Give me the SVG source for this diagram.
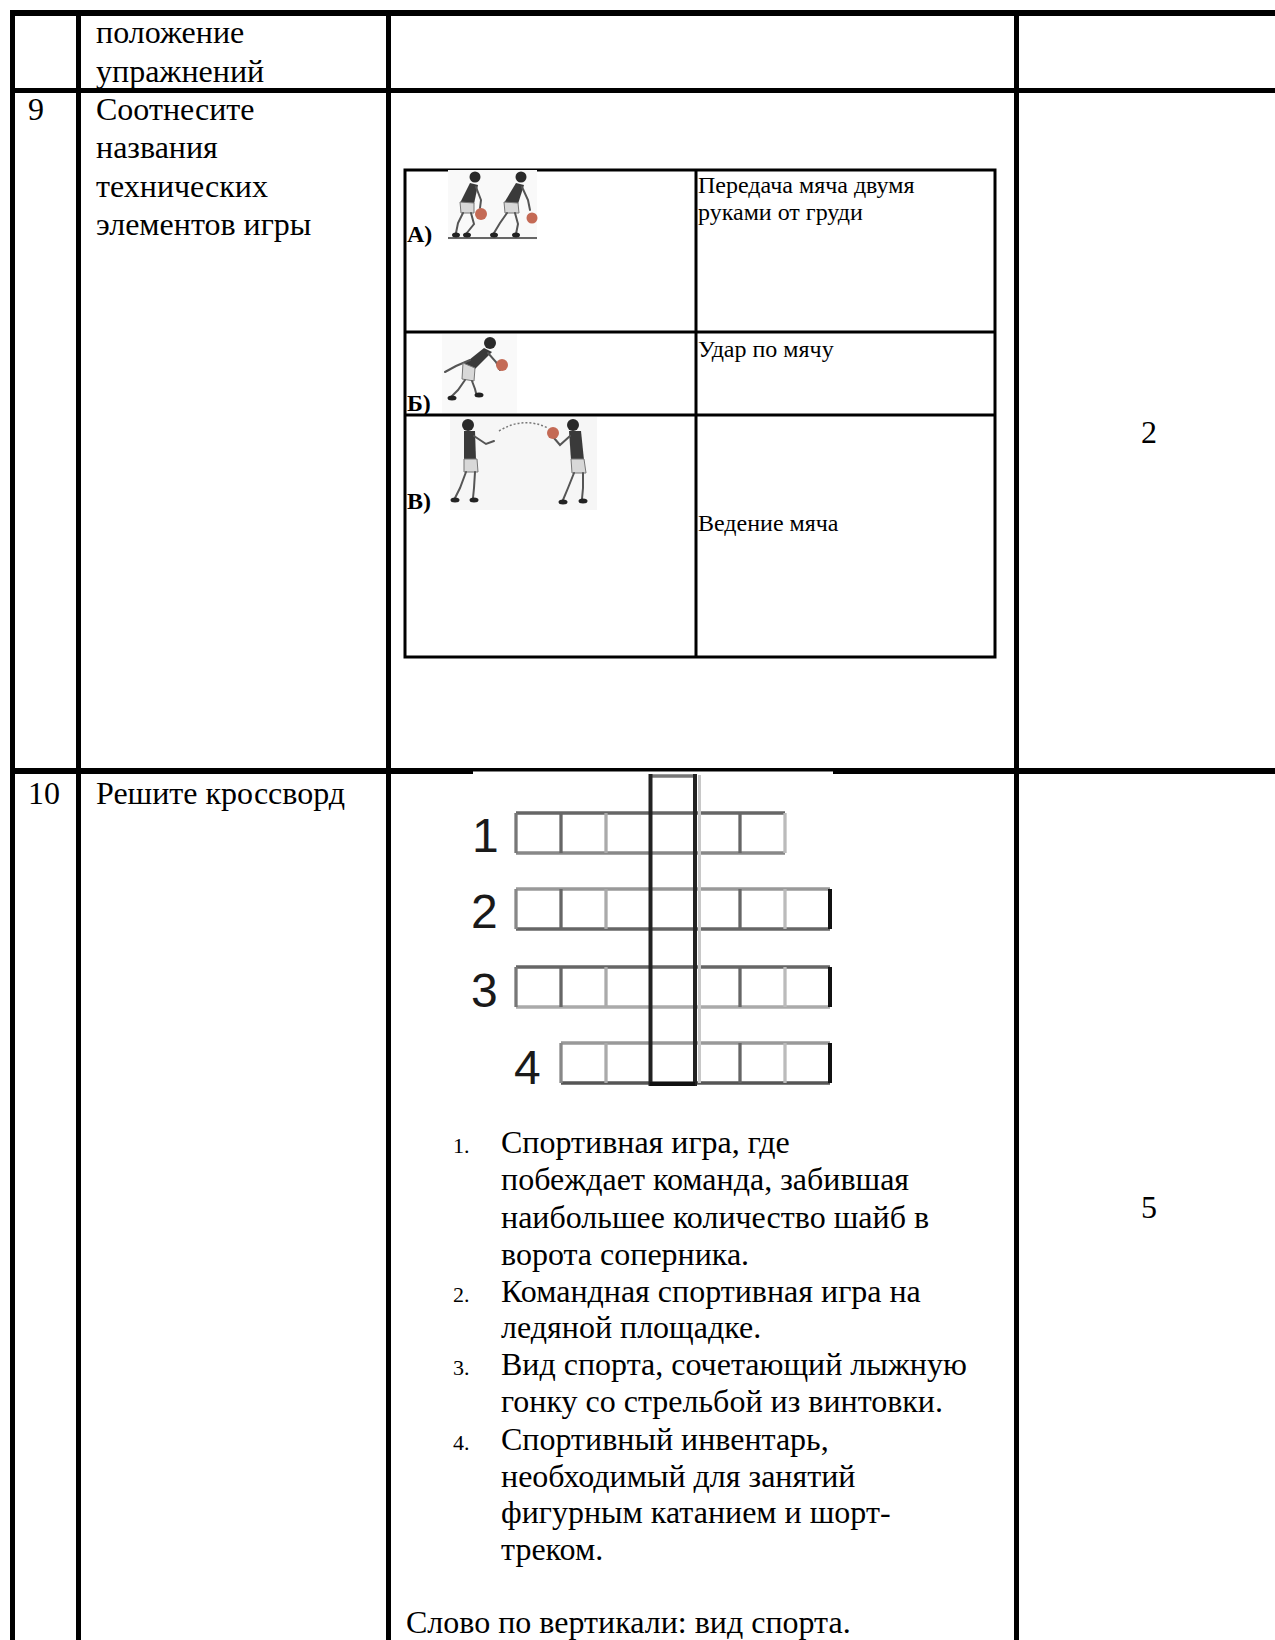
<svg xmlns="http://www.w3.org/2000/svg" width="1275" height="1640" viewBox="0 0 1275 1640">
<style>
.t{font-family:"Liberation Serif","Times New Roman",serif;font-size:32px;fill:#000}
.s{font-family:"Liberation Serif","Times New Roman",serif;font-size:24px;fill:#000}
.k{font-family:"Liberation Serif","Times New Roman",serif;font-size:22px;fill:#000}
.b{font-family:"Liberation Serif","Times New Roman",serif;font-size:24px;font-weight:bold;fill:#000}
.n{font-family:"Liberation Sans",Arial,sans-serif;font-size:48px;fill:#1a1a1a}
.il{stroke:#000;stroke-width:3;fill:none}
.cw{fill:none;stroke-width:3.3}
.leg{stroke:#555;stroke-width:2;fill:none;stroke-linecap:round}
.jer{fill:#3a3a3a}
.sh{fill:#d8d8d8;stroke:#777;stroke-width:1}
.hd{fill:#2a2a2a}
.ball{fill:#c46a55}
.ft{fill:#222}
</style>
<rect width="1275" height="1640" fill="#fff"/>
<g id="connectors">
  <rect x="10" y="10" width="1265" height="6" fill="#000"/>
  <rect x="10" y="88" width="1265" height="5" fill="#000"/>
  <rect x="10" y="768" width="1265" height="6" fill="#000"/>
  <rect x="10" y="10" width="5" height="1630" fill="#000"/>
  <rect x="76" y="10" width="5" height="1630" fill="#000"/>
  <rect x="386" y="10" width="5" height="1630" fill="#000"/>
  <rect x="1014" y="10" width="5" height="1630" fill="#000"/>
</g>
<g id="row-header">
  <text class="t" x="96" y="43">положение</text>
  <text class="t" x="96" y="82">упражнений</text>
</g>
<g id="row-9">
  <text class="t" x="28" y="120">9</text>
  <text class="t" x="96" y="120">Соотнесите</text>
  <text class="t" x="96" y="158">названия</text>
  <text class="t" x="96" y="197">технических</text>
  <text class="t" x="96" y="235">элементов игры</text>
  <text class="t" x="1149" y="443" text-anchor="middle">2</text>
</g>
<g id="match-table">
  <rect class="il" x="405" y="170" width="590" height="487"/>
  <line class="il" x1="696" y1="170" x2="696" y2="657"/>
  <line class="il" x1="405" y1="332" x2="995" y2="332"/>
  <line class="il" x1="405" y1="415" x2="995" y2="415"/>
  <text class="s" x="698" y="193">Передача мяча двумя</text>
  <text class="s" x="698" y="220">руками от груди</text>
  <text class="s" x="698" y="357">Удар по мячу</text>
  <text class="s" x="698" y="531">Ведение мяча</text>
  <text class="b" x="407" y="242">А)</text>
  <text class="b" x="407" y="411">Б)</text>
  <text class="b" x="407" y="509">В)</text>
</g>
<g id="figure-a">
  <rect x="448" y="170" width="89" height="70" fill="#f9f9f9"/>
  <line x1="448" y1="238" x2="537" y2="238" stroke="#666" stroke-width="2"/>
  <circle class="hd" cx="475" cy="177" r="5.5"/>
  <path class="jer" d="M470 183 L478 185 L474 204 L460 203 Z"/>
  <path class="leg" d="M476 187 L481 200 L480 208"/>
  <path class="sh" d="M460 202 L474 203 L474 213 L461 213 Z"/>
  <path class="leg" d="M463 213 L458 223 L456 233 M471 213 L474 224 L466 234"/>
  <circle class="ball" cx="481" cy="214" r="6"/>
  <ellipse class="ft" cx="456" cy="235" rx="4" ry="2.5"/>
  <ellipse class="ft" cx="467" cy="235" rx="4" ry="2.5"/>
  <circle class="hd" cx="521" cy="177" r="5.5"/>
  <path class="jer" d="M516 183 L524 185 L518 204 L504 203 Z"/>
  <path class="leg" d="M522 187 L528 200 L530 210"/>
  <path class="sh" d="M504 202 L518 203 L519 213 L505 213 Z"/>
  <path class="leg" d="M507 213 L500 223 L494 233 M515 213 L518 224 L516 234"/>
  <circle class="ball" cx="532" cy="218" r="5.5"/>
  <ellipse class="ft" cx="494" cy="235" rx="4" ry="2.5"/>
  <ellipse class="ft" cx="516" cy="235" rx="4" ry="2.5"/>
</g>
<g id="figure-b">
  <rect x="442" y="334" width="75" height="79" fill="#f9f9f9"/>
  <circle class="hd" cx="490" cy="343" r="6"/>
  <path class="jer" d="M484 348 L492 352 L474 370 L464 364 Z"/>
  <path class="leg" d="M470 360 L456 366 L445 372 M488 353 L496 362 L500 370"/>
  <path class="sh" d="M463 363 L475 368 L474 381 L462 379 Z"/>
  <path class="leg" d="M465 380 L458 390 L452 396 M472 381 L475 389 L476 393"/>
  <circle class="ball" cx="502" cy="365" r="6"/>
  <ellipse class="ft" cx="452" cy="398" rx="4.5" ry="2.5"/>
  <ellipse class="ft" cx="479" cy="395" rx="4.5" ry="2.5"/>
</g>
<g id="figure-c">
  <rect x="450" y="417" width="147" height="93" fill="#f6f6f6"/>
  <circle class="hd" cx="468" cy="425" r="6"/>
  <path class="jer" d="M464 431 L475 431 L476 460 L464 460 Z"/>
  <path class="leg" d="M474 436 L486 444 L494 441"/>
  <path class="sh" d="M464 459 L477 459 L478 472 L464 472 Z"/>
  <path class="leg" d="M466 472 L460 488 L455 498 M475 472 L474 488 L473 498"/>
  <ellipse class="ft" cx="455" cy="500" rx="4.5" ry="2.5"/>
  <ellipse class="ft" cx="474" cy="500" rx="4.5" ry="2.5"/>
  <path d="M499 431 Q523 416 548 428" fill="none" stroke="#777" stroke-width="1.5" stroke-dasharray="2 2"/>
  <circle class="hd" cx="573" cy="425" r="6"/>
  <path class="jer" d="M569 431 L581 431 L584 460 L571 460 Z"/>
  <path class="leg" d="M570 436 L560 445 L554 438"/>
  <circle class="ball" cx="553" cy="433" r="6"/>
  <path class="sh" d="M571 459 L584 459 L586 473 L572 473 Z"/>
  <path class="leg" d="M574 473 L568 488 L563 500 M583 473 L583 488 L582 499"/>
  <ellipse class="ft" cx="563" cy="502" rx="4.5" ry="2.5"/>
  <ellipse class="ft" cx="583" cy="501" rx="4.5" ry="2.5"/>
</g>
<g id="row-10">
  <text class="t" x="28" y="804">10</text>
  <text class="t" x="96" y="804">Решите кроссворд</text>
  <text class="t" x="1149" y="1218" text-anchor="middle">5</text>
</g>
<g id="crossword">
  <rect x="473" y="771.5" width="360" height="4" fill="#fff"/>
  <line class="cw" x1="516" y1="813" x2="785" y2="813" stroke="#666"/>
  <line class="cw" x1="516" y1="853" x2="785" y2="853" stroke="#888"/>
  <line class="cw" x1="516" y1="813" x2="516" y2="853" stroke="#777"/>
  <line class="cw" x1="561" y1="813" x2="561" y2="853" stroke="#666"/>
  <line class="cw" x1="606" y1="813" x2="606" y2="853" stroke="#aaa"/>
  <line class="cw" x1="740" y1="813" x2="740" y2="853" stroke="#666"/>
  <line class="cw" x1="785" y1="813" x2="785" y2="853" stroke="#bbb"/>
  <line class="cw" x1="516" y1="889" x2="830" y2="889" stroke="#999"/>
  <line class="cw" x1="516" y1="929" x2="830" y2="929" stroke="#666"/>
  <line class="cw" x1="516" y1="889" x2="516" y2="929" stroke="#888"/>
  <line class="cw" x1="561" y1="889" x2="561" y2="929" stroke="#666"/>
  <line class="cw" x1="606" y1="889" x2="606" y2="929" stroke="#aaa"/>
  <line class="cw" x1="740" y1="889" x2="740" y2="929" stroke="#666"/>
  <line class="cw" x1="785" y1="889" x2="785" y2="929" stroke="#bbb"/>
  <line x1="830" y1="889" x2="830" y2="929" stroke="#111" stroke-width="4"/>
  <line class="cw" x1="516" y1="967" x2="830" y2="967" stroke="#666"/>
  <line class="cw" x1="516" y1="1007" x2="830" y2="1007" stroke="#aaa"/>
  <line class="cw" x1="516" y1="967" x2="516" y2="1007" stroke="#777"/>
  <line class="cw" x1="561" y1="967" x2="561" y2="1007" stroke="#666"/>
  <line class="cw" x1="606" y1="967" x2="606" y2="1007" stroke="#aaa"/>
  <line class="cw" x1="740" y1="967" x2="740" y2="1007" stroke="#666"/>
  <line class="cw" x1="785" y1="967" x2="785" y2="1007" stroke="#bbb"/>
  <line x1="830" y1="967" x2="830" y2="1007" stroke="#111" stroke-width="4"/>
  <line class="cw" x1="561" y1="1043" x2="830" y2="1043" stroke="#999"/>
  <line class="cw" x1="561" y1="1083" x2="830" y2="1083" stroke="#555"/>
  <line class="cw" x1="561" y1="1043" x2="561" y2="1083" stroke="#888"/>
  <line class="cw" x1="606" y1="1043" x2="606" y2="1083" stroke="#aaa"/>
  <line class="cw" x1="740" y1="1043" x2="740" y2="1083" stroke="#666"/>
  <line class="cw" x1="785" y1="1043" x2="785" y2="1083" stroke="#bbb"/>
  <line x1="830" y1="1043" x2="830" y2="1083" stroke="#111" stroke-width="4"/>
  <line class="cw" x1="650" y1="776" x2="695" y2="776" stroke="#777"/>
  <line x1="699.5" y1="775" x2="699.5" y2="1083" stroke="#c8c8c8" stroke-width="3"/>
  <line x1="650.5" y1="774" x2="650.5" y2="1086" stroke="#222" stroke-width="4"/>
  <line x1="695" y1="774" x2="695" y2="1086" stroke="#222" stroke-width="4"/>
  <line x1="650" y1="1084" x2="695" y2="1084" stroke="#111" stroke-width="4"/>
  <text class="n" x="472" y="852">1</text>
  <text class="n" x="471" y="928">2</text>
  <text class="n" x="471" y="1007">3</text>
  <text class="n" x="514" y="1084">4</text>
</g>
<g id="clues">
  <text class="k" x="453" y="1153">1.</text>
  <text class="t" x="501" y="1153">Спортивная игра, где</text>
  <text class="t" x="501" y="1190">побеждает команда, забившая</text>
  <text class="t" x="501" y="1228">наибольшее количество шайб в</text>
  <text class="t" x="501" y="1265">ворота соперника.</text>
  <text class="k" x="453" y="1302">2.</text>
  <text class="t" x="501" y="1302">Командная спортивная игра на</text>
  <text class="t" x="501" y="1338">ледяной площадке.</text>
  <text class="k" x="453" y="1375">3.</text>
  <text class="t" x="501" y="1375">Вид спорта, сочетающий лыжную</text>
  <text class="t" x="501" y="1412">гонку со стрельбой из винтовки.</text>
  <text class="k" x="453" y="1450">4.</text>
  <text class="t" x="501" y="1450">Спортивный инвентарь,</text>
  <text class="t" x="501" y="1487">необходимый для занятий</text>
  <text class="t" x="501" y="1523">фигурным катанием и шорт-</text>
  <text class="t" x="501" y="1560">треком.</text>
  <text class="t" x="406" y="1633">Слово по вертикали: вид спорта.</text>
</g>
</svg>
